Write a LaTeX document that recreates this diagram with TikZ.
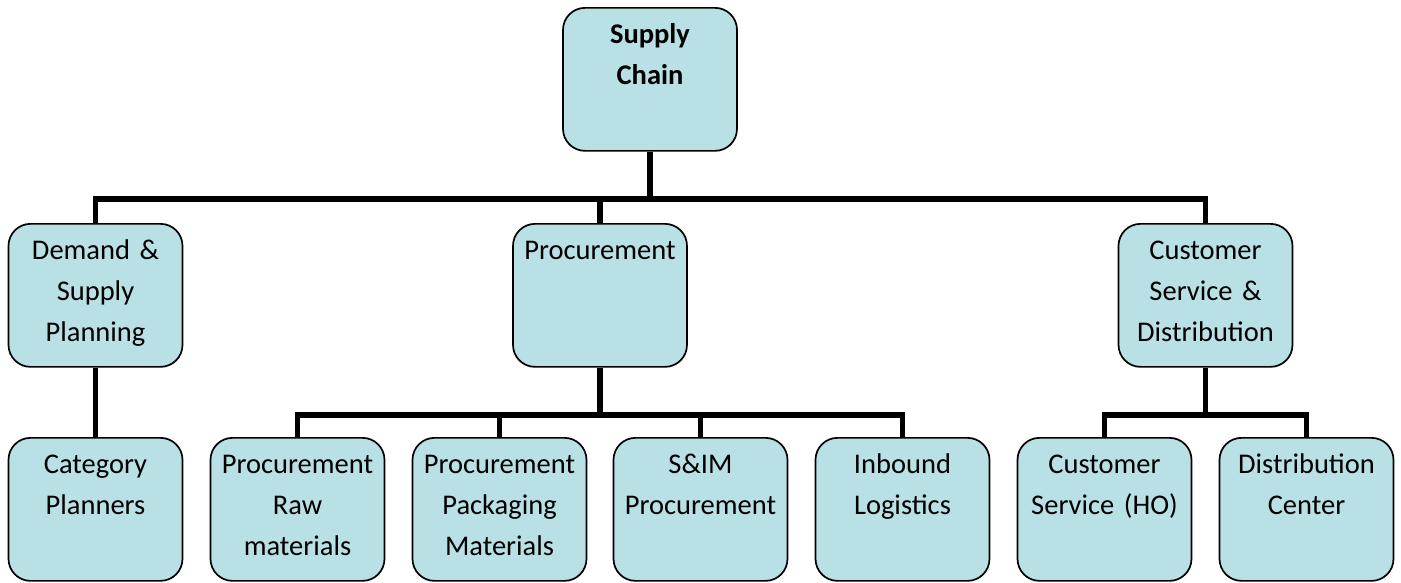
\documentclass[tikz,border=0pt]{standalone}
\usepackage{fontspec}
\setmainfont{Carlito}
\definecolor{boxfill}{HTML}{B9E0E4}
\tikzset{
  orgbox/.style={draw=black, line width=1.7pt, fill=boxfill, rounded corners=22pt,
    text width=170pt, inner xsep=2pt, inner ysep=0pt, align=center,
    text height=36pt, text depth=107pt, anchor=north,
    font=\fontsize{28.5}{41}\selectfont},
  conn/.style={draw=black, line width=5.5pt}
}
\begin{document}
\begin{tikzpicture}[x=1pt,y=-1pt]
\useasboundingbox (0,0) rectangle (1401,582);
% top
\node[orgbox] (sc) at (650,7) {\textbf{Supply}\\\textbf{Chain}};
% level 2
\node[orgbox] (dsp) at (95.5,223) {Demand \&\\Supply\\Planning};
\node[orgbox] (proc) at (600,223) {Procurement};
\node[orgbox] (csd) at (1205.5,223) {Customer\\Service \&\\Distribution};
% level 3
\node[orgbox] (cat) at (95.5,437) {Category\\Planners};
\node[orgbox] (praw) at (297.5,437) {Procurement\\Raw\\materials};
\node[orgbox] (ppack) at (499.5,437) {Procurement\\Packaging\\Materials};
\node[orgbox] (sim) at (700.5,437) {S\&IM\\Procurement};
\node[orgbox] (inb) at (902.5,437) {Inbound\\Logistics};
\node[orgbox] (cso) at (1104.5,437) {Customer\\Service (HO)};
\node[orgbox] (dc) at (1306.5,437) {Distribution\\Center};
% buses
\coordinate (bus1) at (650,199);
\coordinate (bus2) at (600,415);
\coordinate (bus3) at (1205.5,415);
% connectors
\draw[conn] (sc.south) -- (bus1);
\draw[conn] (dsp.north) |- (bus1) -| (csd.north);
\draw[conn] (proc.north) -- (proc.north |- bus1);
\draw[conn] (dsp.south) -- (cat.north);
\draw[conn] (proc.south) -- (bus2);
\draw[conn] (praw.north) |- (bus2) -| (inb.north);
\draw[conn] (ppack.north) -- (ppack.north |- bus2);
\draw[conn] (sim.north) -- (sim.north |- bus2);
\draw[conn] (csd.south) -- (bus3);
\draw[conn] (cso.north) |- (bus3) -| (dc.north);
\end{tikzpicture}
\end{document}
